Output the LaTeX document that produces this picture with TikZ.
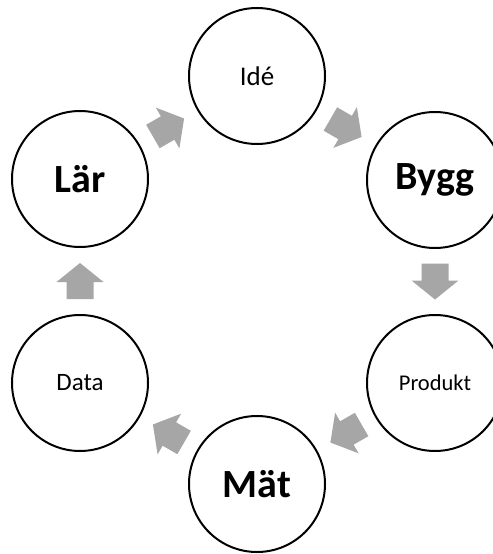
\documentclass[tikz,border=0pt]{standalone}
\usepackage{fontspec}
\setmainfont{Carlito}
\usetikzlibrary{calc}
\definecolor{arrowgrey}{HTML}{A6A6A6}
\tikzset{
  stage/.style={circle, draw=black, line width=2bp, minimum size=136bp, inner sep=0pt, fill=white},
  big/.style={font=\fontsize{40bp}{46bp}\selectfont\bfseries},
  blockarrow/.pic={\fill[arrowgrey] (-18,-13.5) -- (-1,-13.5) -- (-1,-23.5) -- (18,0) -- (-1,23.5) -- (-1,13.5) -- (-18,13.5) -- cycle;}
}
\begin{document}
\begin{tikzpicture}[x=1bp,y=-1bp]
\useasboundingbox (0,0) rectangle (493,554);
\clip (0,0) rectangle (493,554);
\fill[white] (0,0) rectangle (493,554);
\node[stage, font=\fontsize{27bp}{31bp}\selectfont] (ide) at (257,76) {Idé};
\node[stage, big] (bygg) at (435,180) {Bygg};
\node[stage, font=\fontsize{22.5bp}{27bp}\selectfont] (produkt) at (435,383) {Produkt};
\node[stage, big] (mat) at (257,484) {Mät};
\node[stage, font=\fontsize{25bp}{29bp}\selectfont] (data) at (80,383) {Data};
\node[stage, big] (lar) at (80,179) {Lär};
\pic[rotate=30] at ($(lar)!0.5!(ide)$) {blockarrow};
\pic[rotate=-30] at ($(ide)!0.5!(bygg)$) {blockarrow};
\pic[rotate=-90] at ($(bygg)!0.5!(produkt)$) {blockarrow};
\pic[rotate=-150] at ($(produkt)!0.5!(mat)$) {blockarrow};
\pic[rotate=150] at ($(mat)!0.5!(data)$) {blockarrow};
\pic[rotate=90] at ($(data)!0.5!(lar)$) {blockarrow};
\end{tikzpicture}
\end{document}
